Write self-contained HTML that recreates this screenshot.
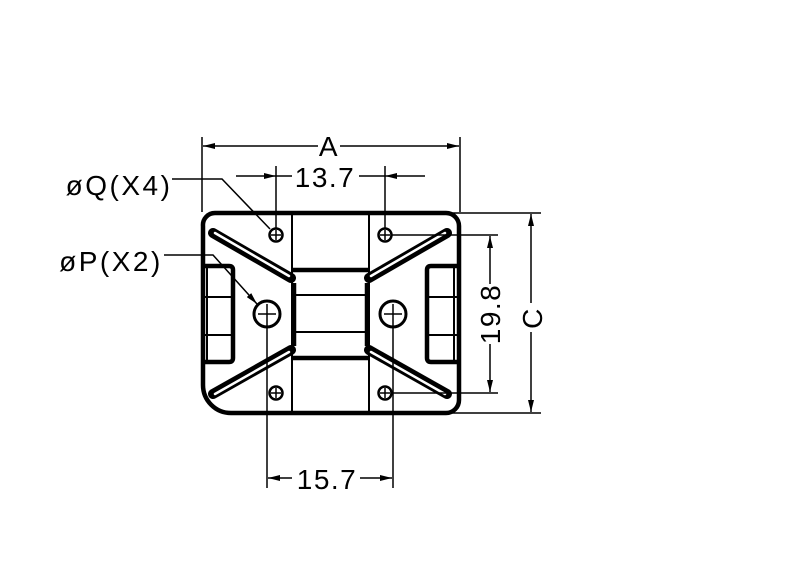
<!DOCTYPE html>
<html><head><meta charset="utf-8"><style>
html,body{margin:0;padding:0;background:#fff;width:800px;height:576px;overflow:hidden}
text{font-family:"Liberation Sans",sans-serif;fill:#000}
</style></head><body>
<svg width="800" height="576" viewBox="0 0 800 576" xmlns="http://www.w3.org/2000/svg">
<defs>
<marker id="ar" viewBox="0 0 12 6" refX="12" refY="3" markerWidth="12" markerHeight="6" markerUnits="userSpaceOnUse" orient="auto-start-reverse">
<path d="M0,0 L12,3 L0,6 Z" fill="#000"/></marker>
</defs>
<path d="M215,213 L446,213 A13,13 0 0 1 459,226 L459,400 A13,13 0 0 1 446,413 L231,413 A28,28 0 0 1 203,385 L203,226 A12,12 0 0 1 215,213 Z" fill="none" stroke="#000" stroke-width="4.5"/>
<g stroke="#000" stroke-width="2" fill="none">
<line x1="292" y1="213" x2="292" y2="413"/>
<line x1="369" y1="213" x2="369" y2="413"/>
<line x1="295" y1="295" x2="366" y2="295"/>
<line x1="295" y1="332" x2="366" y2="332"/>
</g>
<g stroke="#000" stroke-width="4.5" fill="none">
<line x1="292" y1="270" x2="369" y2="270"/>
<line x1="292" y1="358" x2="369" y2="358"/>
<line x1="294" y1="283" x2="294" y2="346"/>
<line x1="367" y1="283" x2="367" y2="346"/>
</g>
<g stroke-linecap="round">
<g stroke="#000" stroke-width="10">
<line x1="213" y1="233" x2="291" y2="278"/>
<line x1="447" y1="233" x2="369" y2="278"/>
<line x1="213" y1="394" x2="291" y2="350"/>
<line x1="447" y1="394" x2="369" y2="350"/>
</g>
<g stroke="#fff" stroke-width="2.5">
<line x1="215" y1="233" x2="289" y2="276"/>
<line x1="445" y1="233" x2="371" y2="276"/>
<line x1="215" y1="394" x2="289" y2="352"/>
<line x1="445" y1="394" x2="371" y2="352"/>
</g>
</g>
<g stroke="#000" fill="none">
<path d="M203,266 L229,266 Q233,266 233,270 L233,358 Q233,362 229,362 L203,362" stroke-width="4.5"/>
<line x1="207" y1="266" x2="207" y2="362" stroke-width="2"/>
<line x1="203" y1="297" x2="231" y2="297" stroke-width="2"/>
<line x1="203" y1="335" x2="231" y2="335" stroke-width="2"/>
<path d="M459,266 L431,266 Q427,266 427,270 L427,358 Q427,362 431,362 L459,362" stroke-width="4.5"/>
<line x1="454" y1="266" x2="454" y2="362" stroke-width="2"/>
<line x1="429" y1="297" x2="457" y2="297" stroke-width="2"/>
<line x1="429" y1="335" x2="457" y2="335" stroke-width="2"/>
</g>
<g stroke="#000" fill="none">
<circle cx="276" cy="235" r="6.5" stroke-width="2.5"/>
<circle cx="385" cy="235" r="6.5" stroke-width="2.5"/>
<circle cx="276" cy="393" r="6.5" stroke-width="2.5"/>
<circle cx="385" cy="393" r="6.5" stroke-width="2.5"/>
<circle cx="267" cy="314" r="13" stroke-width="3"/>
<circle cx="393" cy="314" r="13" stroke-width="3"/>
<g stroke-width="1.5">
<line x1="271" y1="235" x2="281" y2="235"/><line x1="276" y1="230" x2="276" y2="240"/>
<line x1="380" y1="235" x2="390" y2="235"/><line x1="385" y1="230" x2="385" y2="240"/>
<line x1="271" y1="393" x2="281" y2="393"/><line x1="276" y1="388" x2="276" y2="398"/>
<line x1="380" y1="393" x2="390" y2="393"/><line x1="385" y1="388" x2="385" y2="398"/>
<line x1="258" y1="314" x2="276" y2="314"/>
<line x1="384" y1="314" x2="402" y2="314"/>
</g>
</g>
<g stroke="#000" stroke-width="1.5" fill="none">
<line x1="202" y1="137" x2="202" y2="212"/>
<line x1="460" y1="137" x2="460" y2="212"/>
<line x1="203" y1="146" x2="318" y2="146" marker-start="url(#ar)"/>
<line x1="340" y1="146" x2="459" y2="146" marker-end="url(#ar)"/>
<line x1="276" y1="166" x2="276" y2="228"/>
<line x1="385" y1="166" x2="385" y2="228"/>
<line x1="236" y1="176" x2="276" y2="176" marker-end="url(#ar)"/>
<line x1="276" y1="176" x2="292" y2="176"/>
<line x1="359" y1="176" x2="385" y2="176"/>
<line x1="425" y1="176" x2="385" y2="176" marker-end="url(#ar)"/>
<polyline points="172,179 222,179 270,229"/>
<polyline points="164,255 213,255 257,304" marker-end="url(#ar)"/>
<line x1="267" y1="304" x2="267" y2="488"/>
<line x1="393" y1="304" x2="393" y2="488"/>
<line x1="292" y1="478" x2="268" y2="478" marker-end="url(#ar)"/>
<line x1="360" y1="478" x2="392" y2="478" marker-end="url(#ar)"/>
<line x1="392" y1="235" x2="498" y2="235"/>
<line x1="392" y1="393" x2="498" y2="393"/>
<line x1="490" y1="284" x2="490" y2="236" marker-end="url(#ar)"/>
<line x1="490" y1="344" x2="490" y2="392" marker-end="url(#ar)"/>
<line x1="452" y1="213" x2="541" y2="213"/>
<line x1="452" y1="413" x2="541" y2="413"/>
<line x1="531" y1="303" x2="531" y2="214" marker-end="url(#ar)"/>
<line x1="531" y1="332" x2="531" y2="412" marker-end="url(#ar)"/>
</g>
<g font-size="28" letter-spacing="1.5">
<text x="329" y="156" text-anchor="middle">A</text>
<text x="325" y="187" text-anchor="middle">13.7</text>
<text x="119" y="195" text-anchor="middle" letter-spacing="2.5">øQ(X4)</text>
<text x="111" y="271" text-anchor="middle" letter-spacing="2.5">øP(X2)</text>
<text x="327" y="489" text-anchor="middle">15.7</text>
<text transform="translate(500,314) rotate(-90)" text-anchor="middle">19.8</text>
<text transform="translate(542,318) rotate(-90)" text-anchor="middle">C</text>
</g>
</svg>
</body></html>
